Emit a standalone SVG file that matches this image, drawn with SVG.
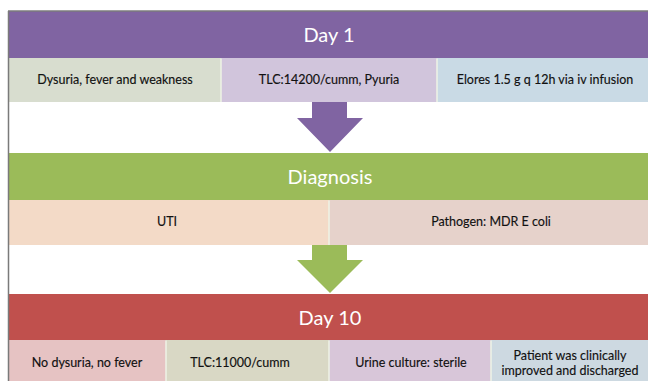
<svg xmlns="http://www.w3.org/2000/svg" width="648" height="381" viewBox="0 0 648 381">
<style>
.title{font-family:Lato,"Open Sans","Liberation Sans",sans-serif;font-size:20px;fill:#ffffff;text-anchor:middle}
.cell{font-family:Lato,"Open Sans","Liberation Sans",sans-serif;font-size:12.5px;fill:#111111;text-anchor:middle;stroke:#111111;stroke-width:0.15}
.sep{stroke:#eef3e6;stroke-width:1.5}
</style>
<rect x="0" y="0" width="648" height="381" fill="#ffffff"/>
<g id="day1">
<rect x="9" y="11.5" width="639" height="46.5" fill="#8064a2"/>
<text class="title" x="329" y="42">Day 1</text>
</g>
<g id="day1-symptoms">
<rect x="9" y="58" width="212" height="44" fill="#d8ddcf"/>
<text class="cell" x="115" y="84">Dysuria, fever and weakness</text>
</g>
<g id="day1-tlc">
<rect x="221" y="58" width="216" height="44" fill="#d1c5dc"/>
<text class="cell" x="329" y="84">TLC:14200/cumm, Pyuria</text>
</g>
<g id="day1-elores">
<rect x="437" y="58" width="211" height="44" fill="#c9dae5"/>
<text class="cell" x="545" y="84">Elores 1.5 g q 12h via iv infusion</text>
</g>
<g id="diagnosis">
<rect x="9" y="153" width="639" height="47" fill="#9bbb59"/>
<text class="title" x="330" y="184">Diagnosis</text>
</g>
<g id="diag-uti">
<rect x="9" y="200" width="320" height="45" fill="#f3dac7"/>
<text class="cell" x="167" y="226">UTI</text>
</g>
<g id="diag-pathogen">
<rect x="329" y="200" width="319" height="45" fill="#e6d2cb"/>
<text class="cell" x="491" y="226">Pathogen: MDR E coli</text>
</g>
<g id="day10">
<rect x="9" y="294" width="639" height="46" fill="#c0504d"/>
<text class="title" x="330" y="325">Day 10</text>
</g>
<g id="d10-symptoms">
<rect x="9" y="340" width="157" height="41" fill="#e6c3c3"/>
<text class="cell" x="87" y="367">No dysuria, no fever</text>
</g>
<g id="d10-tlc">
<rect x="166" y="340" width="163" height="41" fill="#d9d8c5"/>
<text class="cell" x="240" y="367">TLC:11000/cumm</text>
</g>
<g id="d10-culture">
<rect x="329" y="340" width="162" height="41" fill="#d8c6d9"/>
<text class="cell" x="411" y="367">Urine culture: sterile</text>
</g>
<g id="d10-outcome">
<rect x="491" y="340" width="157" height="41" fill="#cdd9e1"/>
<text class="cell" x="570" y="360">Patient was clinically</text>
<text class="cell" x="570" y="375">improved and discharged</text>
</g>
<g id="connectors">
<polygon points="312,102 347,102 347,118 363,118 330,152 297,118 312,118" fill="#8064a2"/>
<polygon points="312,245 347,245 347,260 363,260 330,293 297,260 312,260" fill="#9bbb59"/>
<line class="sep" x1="221" y1="58.5" x2="221" y2="102"/>
<line class="sep" x1="437" y1="58.5" x2="437" y2="102"/>
<line class="sep" x1="329" y1="200.5" x2="329" y2="245"/>
<line class="sep" x1="166" y1="340.5" x2="166" y2="381"/>
<line class="sep" x1="329" y1="340.5" x2="329" y2="381"/>
<line class="sep" x1="491" y1="340.5" x2="491" y2="381"/>
</g>
<line x1="8" y1="11" x2="648" y2="11" stroke="#3a3a3a" stroke-width="1"/>
<line x1="8.5" y1="11" x2="8.5" y2="381" stroke="#7a7a7a" stroke-width="1.5"/>
</svg>
